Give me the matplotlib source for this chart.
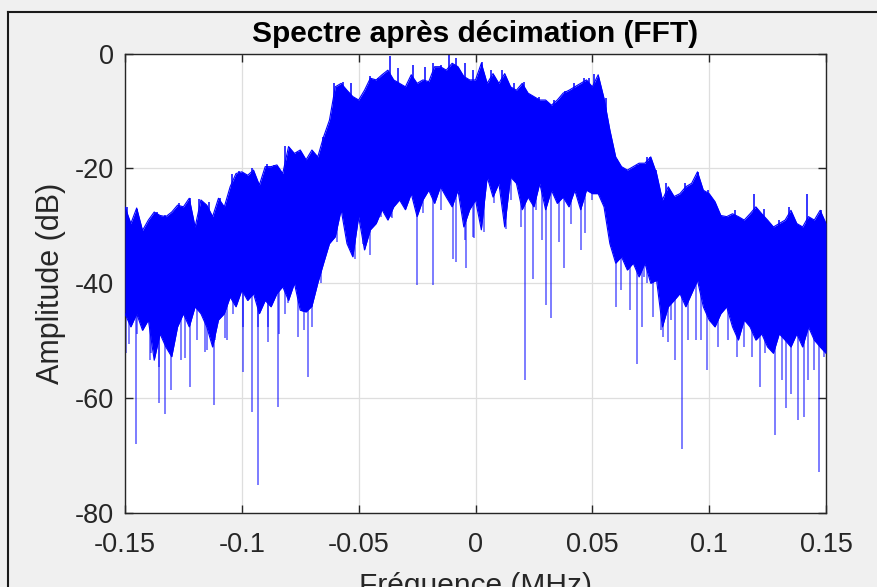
import numpy as np
import matplotlib.pyplot as plt
from matplotlib.lines import Line2D

# frequency grid of the envelope readings (MHz), step 0.0025
freq = np.linspace(-0.15, 0.15, 121)

# upper edge of the blue band (dB)
top_db = [
    -26.7, -29.6, -26.9, -30.8, -29.0, -27.6, -28.2, -28.4, -27.6, -26.4,
    -26.7, -25.2, -30.2, -25.5, -26.4, -28.4, -25.2, -26.7, -23.2, -20.9,
    -20.6, -21.2, -20.3, -22.9, -19.7, -19.7, -19.4, -20.9, -16.2, -17.4,
    -16.8, -18.5, -16.8, -18.0, -14.5, -11.6, -5.8, -5.2, -6.4, -7.5,
    -8.1, -6.4, -4.3, -4.6, -3.7, -2.9, -4.6, -5.2, -5.8, -3.7,
    -5.2, -4.6, -4.9, -2.3, -2.3, -2.9, -1.7, -2.3, -4.0, -4.6,
    -4.6, -1.7, -5.2, -3.5, -5.2, -3.5, -5.8, -6.4, -5.2, -6.9,
    -7.5, -8.1, -8.1, -9.0, -8.1, -6.9, -6.4, -5.8, -5.2, -4.6,
    -5.8, -3.7, -7.8, -13.3, -18.0, -19.7, -20.3, -19.7, -19.1, -19.1,
    -18.0, -20.9, -25.5, -23.2, -24.9, -24.4, -23.2, -22.6, -20.6, -23.8,
    -24.4, -25.8, -28.2, -28.4, -27.9, -28.4, -29.0, -27.9, -26.7, -27.9,
    -29.0, -30.2, -29.6, -29.0, -27.3, -29.6, -30.2, -28.4, -29.0, -27.3,
    -29.6,
]

# lower edge of the dense part of the band (dB)
low_db = [
    -45.3, -47.6, -45.3, -48.2, -46.4, -53.4, -48.8, -51.1, -52.8, -47.6,
    -45.3, -47.6, -44.1, -45.3, -47.6, -51.1, -46.4, -45.3, -42.4, -44.1,
    -41.2, -43.0, -41.8, -45.3, -43.0, -44.1, -41.8, -40.6, -43.0, -40.0,
    -44.7, -45.0, -44.0, -40.0, -36.5, -33.1, -31.9, -27.2, -33.1, -35.4,
    -28.4, -34.2, -30.7, -29.6, -27.2, -29.0, -26.7, -25.5, -27.2, -24.4,
    -28.4, -25.5, -23.8, -26.1, -23.2, -25.0, -26.7, -23.8, -30.2, -27.2,
    -25.5, -30.7, -21.5, -25.0, -22.6, -30.2, -21.5, -22.6, -27.2, -25.0,
    -26.7, -22.6, -27.2, -23.8, -26.1, -25.0, -26.7, -23.8, -27.2, -23.8,
    -24.4, -24.4, -26.7, -33.1, -36.5, -35.4, -37.7, -36.5, -38.9, -36.5,
    -40.0, -39.5, -47.6, -44.1, -43.0, -41.8, -44.1, -41.8, -39.5, -44.1,
    -46.4, -47.6, -45.3, -44.1, -47.6, -49.9, -46.4, -47.6, -49.9, -48.8,
    -51.1, -52.2, -48.8, -49.9, -51.1, -48.8, -51.1, -47.6, -49.9, -51.1,
    -52.2,
]

# notches below the band: frequency (MHz) and level (dB)
dip_f = [-0.1495, -0.1453, -0.1392, -0.1356, -0.1330, -0.1303, -0.1242, -0.1220,
         -0.1159, -0.1120, -0.1070, -0.0996, -0.0957, -0.0932, -0.0888, -0.0845,
         -0.0804, -0.0760, -0.0734, -0.0717, -0.0700, -0.0663, -0.0592, -0.0553,
         -0.0515, -0.0453, -0.0432, -0.0358, -0.0252, -0.0181, -0.0097, -0.0082,
         -0.0040, -0.0007, 0.0036, 0.0132, 0.0193, 0.0212, 0.0247, 0.0301,
         0.0324, 0.0357, 0.0378, 0.0453, 0.0468, 0.0600, 0.0621, 0.0661,
         0.0692, 0.0713, 0.0735, 0.0759, 0.0802, 0.0823, 0.0855, 0.0883,
         0.0945, 0.0963, 0.0990, 0.1038, 0.1120, 0.1184, 0.1218, 0.1283,
         0.1312, 0.1330, 0.1380, 0.1405, 0.1447, 0.1469, 0.1493,
         -0.1483, -0.1447, -0.1390, -0.1355, -0.1298, -0.1262, -0.1192, -0.1150,
         -0.1114, -0.1064, -0.1036, -0.0993, -0.0929, -0.0886, -0.0843, -0.0815,
         -0.0686, -0.0617, -0.0574, -0.0531, -0.0482, -0.0403, -0.0360, -0.0303,
         -0.0225, -0.0146, -0.0047, -0.0011, 0.0079, 0.0150, 0.0257, 0.0286,
         0.0407, 0.0500, 0.0543, 0.0578, 0.0642, 0.0720, 0.0794, 0.0837,
         0.0909, 0.1023, 0.1080, 0.1151, 0.1237, 0.1351, 0.1422, 0.1480]
dip_db = [-52.2, -68.0, -53.4, -60.9, -62.8, -58.6, -53.1, -58.0,
          -51.9, -61.2, -49.6, -55.4, -62.4, -75.2, -50.2, -61.5,
          -43.5, -49.3, -48.2, -56.3, -47.6, -40.0, -32.8, -27.8,
          -35.7, -35.1, -27.3, -28.7, -40.3, -40.3, -35.7, -36.3,
          -37.4, -32.2, -31.0, -30.5, -30.2, -56.9, -39.2, -43.8,
          -46.1, -32.8, -37.4, -34.2, -31.3, -44.1, -41.2, -44.7,
          -54.0, -47.6, -40.0, -45.8, -49.3, -50.2, -53.4, -68.8,
          -49.9, -49.9, -55.1, -51.1, -52.8, -52.8, -58.0, -66.4,
          -56.9, -61.8, -63.8, -63.3, -55.1, -72.8, -52.8,
          -50.5, -48.8, -52.2, -54.6, -52.2, -53.4, -49.9, -51.7,
          -49.9, -49.9, -45.3, -47.6, -47.6, -47.6, -48.8, -45.3,
          -36.5, -29.6, -26.7, -32.8, -33.1, -28.4, -28.4, -26.1,
          -27.8, -27.2, -32.5, -31.9, -26.1, -25.5, -27.2, -32.5,
          -29.6, -25.5, -25.0, -33.7, -37.1, -38.9, -48.2, -46.4,
          -49.9, -47.6, -49.9, -51.1, -52.2, -59.2, -56.9, -49.9]

# spikes on top of the band
peak_f = [-0.1491, -0.1449, -0.1363, -0.1327, -0.1270, -0.1220, -0.1184, -0.1142,
          -0.1095, -0.1042, -0.1013, -0.0957, -0.0893, -0.0864, -0.0814, -0.0764,
          -0.0653, -0.0606, -0.0567, -0.0531, -0.0453, -0.0417, -0.0367, -0.0332,
          -0.0268, -0.0218, -0.0182, -0.0146, -0.0115, -0.0082, -0.0047, -0.0011,
          0.0029, 0.0065, 0.0115, 0.0165, 0.0207, 0.0271, 0.0336, 0.0385,
          0.0421, 0.0464, 0.0485, 0.0509, 0.0557, 0.0607, 0.0692, 0.0735,
          0.0745, 0.0773, 0.0816, 0.0895, 0.0952, 0.0995, 0.1044, 0.1109,
          0.1192, 0.1236, 0.1300, 0.1343, 0.1420, 0.1480]
peak_db = [-26.7, -27.0, -27.6, -28.2, -26.1, -25.2, -25.4, -25.8,
           -25.1, -20.9, -20.4, -20.0, -19.2, -19.4, -16.1, -17.1,
           -14.5, -5.2, -4.9, -5.2, -4.0, -4.3, -0.5, -2.6,
           -2.0, -2.3, -1.7, -2.0, -0.1, -0.7, -1.7, -2.9,
           -1.4, -2.9, -2.9, -5.2, -4.9, -7.5, -8.1, -6.6,
           -5.2, -4.3, -4.3, -3.6, -7.8, -18.3, -19.4, -18.0,
           -18.0, -20.3, -22.6, -22.6, -20.6, -23.8, -27.9, -27.3,
           -24.4, -27.0, -29.0, -26.7, -24.4, -27.3]

fig = plt.figure(figsize=(8.77, 5.87), dpi=100, facecolor='#f0f0f0')
plt.rcParams['font.family'] = ['Liberation Sans', 'DejaVu Sans']

# dark frame of the window (top and left edges)
fig.add_artist(Line2D([8 / 877, 8 / 877], [0, 1 - 12 / 587], transform=fig.transFigure,
                      color='#1a1a1a', lw=1.5))
fig.add_artist(Line2D([8 / 877, 1], [1 - 12 / 587, 1 - 12 / 587], transform=fig.transFigure,
                      color='#1a1a1a', lw=1.5))

ax = fig.add_axes([125 / 877, 1 - 513 / 587, 701 / 877, 459.5 / 587])
ax.set_facecolor('white')

blue = (0, 0, 1)
low_at_dip = np.interp(dip_f, freq, low_db)
ax.vlines(dip_f, dip_db, low_at_dip + 3, color=blue, lw=1.2, alpha=0.6, zorder=2)
top_at_peak = np.interp(peak_f, freq, top_db)
ax.vlines(peak_f, top_at_peak - 3, peak_db, color=blue, lw=1.1, zorder=2)
ax.fill_between(freq, low_db, top_db, color=blue, lw=0, zorder=3)
ax.plot(freq, top_db, color=blue, lw=0.8, zorder=3)
ax.plot(freq, low_db, color=blue, lw=0.8, zorder=3)

ax.set_xlim(-0.15, 0.15)
ax.set_ylim(-80, 0)
ax.set_xticks([-0.15, -0.1, -0.05, 0, 0.05, 0.1, 0.15])
ax.set_xticklabels(['-0.15', '-0.1', '-0.05', '0', '0.05', '0.1', '0.15'])
ax.set_yticks([0, -20, -40, -60, -80])
ax.set_yticklabels(['0', '-20', '-40', '-60', '-80'])
ax.grid(True, color='#dedede', lw=0.9)
ax.set_axisbelow(True)
ax.tick_params(direction='in', length=6, width=1, colors='#262626', labelsize=19.5,
               top=True, right=True)
ax.tick_params(axis='x', pad=14)
ax.tick_params(axis='y', pad=8)
for s in ax.spines.values():
    s.set_color('#262626')
    s.set_linewidth(1.0)

ax.set_title('Spectre après décimation (FFT)', fontsize=21.5, fontweight='bold', pad=8.5)
ax.set_ylabel('Amplitude (dB)', fontsize=22, color='#262626', labelpad=6)
ax.set_xlabel('Fréquence (MHz)', fontsize=21.5, color='#262626', labelpad=10)

fig.savefig('out.png', dpi=100, facecolor=fig.get_facecolor())
